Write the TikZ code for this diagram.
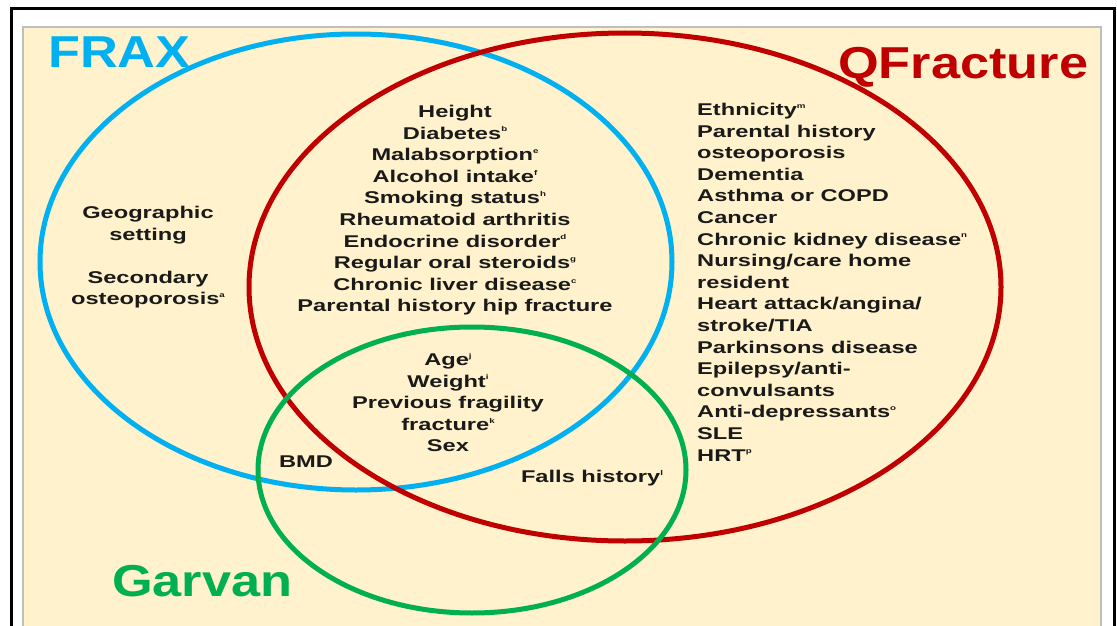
\documentclass[tikz,border=0pt]{standalone}
\usepackage{fontspec}
\setmainfont{Liberation Sans}
\newfontfamily\vennbody[FakeStretch=1.39]{Liberation Sans}
\newfontfamily\venntitle[FakeStretch=1.17]{Liberation Sans}
\definecolor{VennFrax}{HTML}{00B0F0}
\definecolor{VennQfrac}{HTML}{C00000}
\definecolor{VennGarvan}{HTML}{00B050}
\definecolor{VennPanel}{HTML}{FFF2CC}
\definecolor{VennEdge}{HTML}{BFBFBF}
\definecolor{VennInk}{HTML}{1A1A1A}
\tikzset{
  venn list/.style={font=\vennbody\bfseries\fontsize{17}{21.6}\selectfont, text=VennInk, inner sep=0pt},
  venn title/.style={font=\venntitle\bfseries\fontsize{44.7}{50}\selectfont, inner sep=0pt, anchor=base west},
  venn ring/.style={line width=5pt},
}
\newcommand{\vsup}[1]{\raisebox{.8ex}{\fontsize{7}{7}\selectfont#1}}

\begin{document}
\begin{tikzpicture}[x=1pt,y=-1pt]
  \useasboundingbox (0,0) rectangle (1117,626);
  \fill[white] (0,0) rectangle (1117,626);

  % slide frame and cream panel
  \draw[line width=3pt] (11,9) rectangle (1114,660);
  \draw[VennEdge, fill=VennPanel, line width=1.5pt] (23,27) rectangle (1101,660);

  % the three risk tools
  \draw[venn ring, VennFrax] (356,262) ellipse [x radius=316pt, y radius=228pt];
  \draw[venn ring, VennQfrac] (625,287) ellipse [x radius=376pt, y radius=254pt];
  \draw[venn ring, VennGarvan] (472,470) ellipse [x radius=214pt, y radius=143pt];

  \node[venn title, text=VennFrax] (frax) at (48,68) {FRAX};
  \node[venn title, text=VennQfrac] (qfracture) at (838,78) {QFracture};
  \node[venn title, text=VennGarvan] (garvan) at (112,596) {Garvan};

  % FRAX only
  \node[venn list, anchor=north, align=center] (fraxonly) at (148,206)
    {Geographic\\setting\\[21.6pt]Secondary\\osteoporosis\vsup{a}};

  % FRAX and QFracture
  \node[venn list, anchor=north, align=center] (shared) at (455,105)
    {Height\\Diabetes\vsup{b}\\Malabsorption\vsup{e}\\Alcohol intake\vsup{f}\\Smoking status\vsup{h}\\
     Rheumatoid arthritis\\Endocrine disorder\vsup{d}\\Regular oral steroids\vsup{g}\\
     Chronic liver disease\vsup{c}\\Parental history hip fracture};

  % QFracture only
  \node[venn list, anchor=north west, align=left] (qonly) at (697,103)
    {Ethnicity\vsup{m}\\Parental history\\osteoporosis\\Dementia\\Asthma or COPD\\Cancer\\
     Chronic kidney disease\vsup{n}\\Nursing/care home\\resident\\Heart attack/angina/\\stroke/TIA\\
     Parkinsons disease\\Epilepsy/anti-\\convulsants\\Anti-depressants\vsup{o}\\SLE\\HRT\vsup{p}};

  % all three, and the Garvan pairs
  \node[venn list, anchor=north, align=center] (allthree) at (448,353)
    {Age\vsup{j}\\Weight\vsup{i}\\Previous fragility\\fracture\vsup{k}\\Sex};
  \node[venn list] (bmd) at (306,462) {BMD};
  \node[venn list] (falls) at (592,478) {Falls history\vsup{l}};
\end{tikzpicture}
\end{document}
